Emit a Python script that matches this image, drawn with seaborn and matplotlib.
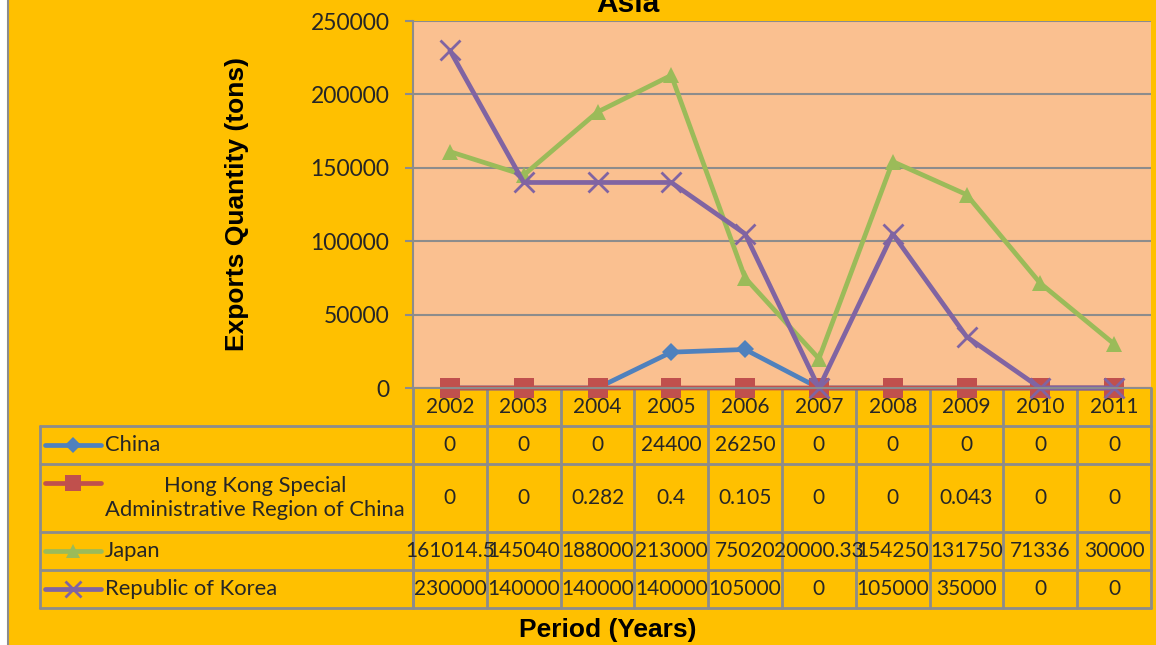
import numpy as np
import pandas as pd
import seaborn as sns
import matplotlib.pyplot as plt
from matplotlib import transforms
from matplotlib.patches import Rectangle
from matplotlib.lines import Line2D

years = ["2002", "2003", "2004", "2005", "2006", "2007", "2008", "2009", "2010", "2011"]
china = [0, 0, 0, 24400, 26250, 0, 0, 0, 0, 0]
hong_kong = [0, 0, 0.282, 0.4, 0.105, 0, 0, 0.043, 0, 0]
japan = [161014.5, 145040, 188000, 213000, 75020, 20000.33, 154250, 131750, 71336, 30000]
korea = [230000, 140000, 140000, 140000, 105000, 0, 105000, 35000, 0, 0]
series_names = ["China", "Hong Kong Special\nAdministrative Region of China", "Japan", "Republic of Korea"]
y_ticks = [0, 50000, 100000, 150000, 200000, 250000]

series = [china, hong_kong, japan, korea]
colors = ["#4F81BD", "#C0504D", "#9BBB59", "#8064A2"]
markers = ["D", "s", "^", "x"]
msizes = [9.5, 14, 12, 14]

sns.set_style("white")
plt.rcParams["font.family"] = ["Lato", "DejaVu Sans"]

W, H = 1156, 645
GRAY = "#8c8c8c"
fig = plt.figure(figsize=(W / 100, H / 100), dpi=100)
fig.patch.set_facecolor("white")

# background (chart area) in pixel coords
bg = fig.add_axes([0, 0, 1, 1], zorder=0)
bg.set_xlim(0, W)
bg.set_ylim(H, 0)
bg.axis("off")
bg.add_patch(Rectangle((8, -5), W, H + 10, facecolor="#FFC000", edgecolor=GRAY, lw=1.5))

# table layer
tbl = fig.add_axes([0, 0, 1, 1], zorder=1)
tbl.set_xlim(0, W)
tbl.set_ylim(H, 0)
tbl.axis("off")
tbl.patch.set_visible(False)

# plot area
ax = fig.add_axes([413 / W, 1 - 388 / H, 738 / W, 367 / H], zorder=2)
ax.set_facecolor("#FAC090")
x_pos = np.arange(len(years))
for vals, c, m, ms in zip(series, colors, markers, msizes):
    sns.lineplot(x=x_pos, y=vals, ax=ax, color=c, lw=3.4, marker=m, markersize=ms,
                 markeredgecolor=c, markeredgewidth=2 if m == "x" else 0,
                 clip_on=False, legend=False)

ax.set_xlim(-0.5, len(years) - 0.5)
ax.set_ylim(0, 250000)
ax.set_xticks([])
ax.set_yticks(y_ticks)
ax.set_yticklabels([str(t) for t in y_ticks], fontsize=16.5)
ax.tick_params(axis="y", direction="out", length=6, width=1.5, color=GRAY, pad=11, left=True)
ax.yaxis.grid(True, color=GRAY, lw=1.5)
ax.set_axisbelow(True)
for s in ["top", "right"]:
    ax.spines[s].set_visible(False)
for s in ["left", "bottom"]:
    ax.spines[s].set_color(GRAY)
    ax.spines[s].set_linewidth(1.5)
ax.set_xlabel("")
ax.set_ylabel("")

# data table under the plot
trans = transforms.blended_transform_factory(ax.transData, tbl.transData)
row_edges = [388, 426, 464, 532, 570, 608]
fig.canvas.draw()
x_right = ax.transData.transform((len(years) - 0.5, 0))[0]
x_left_tab = 40

for i in range(len(years) + 1):
    tbl.plot([i - 0.5, i - 0.5], [row_edges[0], row_edges[-1]], color=GRAY, lw=2, transform=trans)
tbl.plot([x_left_tab, x_left_tab], [row_edges[1], row_edges[-1]], color=GRAY, lw=2)
tbl.plot([413, 413], [row_edges[1], row_edges[-1]], color=GRAY, lw=2)
for y in row_edges[1:]:
    tbl.plot([x_left_tab, x_right], [y, y], color=GRAY, lw=2)

hdr_y = (row_edges[0] + row_edges[1]) / 2
for i, yr in enumerate(years):
    tbl.text(i, hdr_y, yr, ha="center", va="center", fontsize=15, transform=trans)

for r, (name, vals, c, m, ms) in enumerate(zip(series_names, series, colors, markers, msizes)):
    top, bot = row_edges[r + 1], row_edges[r + 2]
    cy = (top + bot) / 2
    ky = top + 19
    tbl.add_line(Line2D([45, 101], [ky, ky], color=c, lw=3.4))
    tbl.add_line(Line2D([73], [ky], color=c, marker=m, markersize=ms * 0.85,
                        markeredgecolor=c, markeredgewidth=2 if m == "x" else 0))
    tbl.text(105, cy, name, ha="left", va="center", multialignment="center",
             fontsize=15.8, linespacing=1.3)
    for i, v in enumerate(vals):
        tbl.text(i, cy, "%.10g" % v, ha="center", va="center", fontsize=15, transform=trans)

# titles
bold = dict(family=["Liberation Sans", "DejaVu Sans"], fontweight="bold", color="black")
tbl.text(628, 12, "Asia", ha="center", va="baseline", fontsize=21.5, **bold)
tbl.text(237, 204, "Exports Quantity (tons)", rotation=90, ha="center", va="center", fontsize=19, **bold)
tbl.text(608, 630, "Period (Years)", ha="center", va="center", fontsize=19, **bold)

fig.savefig("out.png", dpi=100)
